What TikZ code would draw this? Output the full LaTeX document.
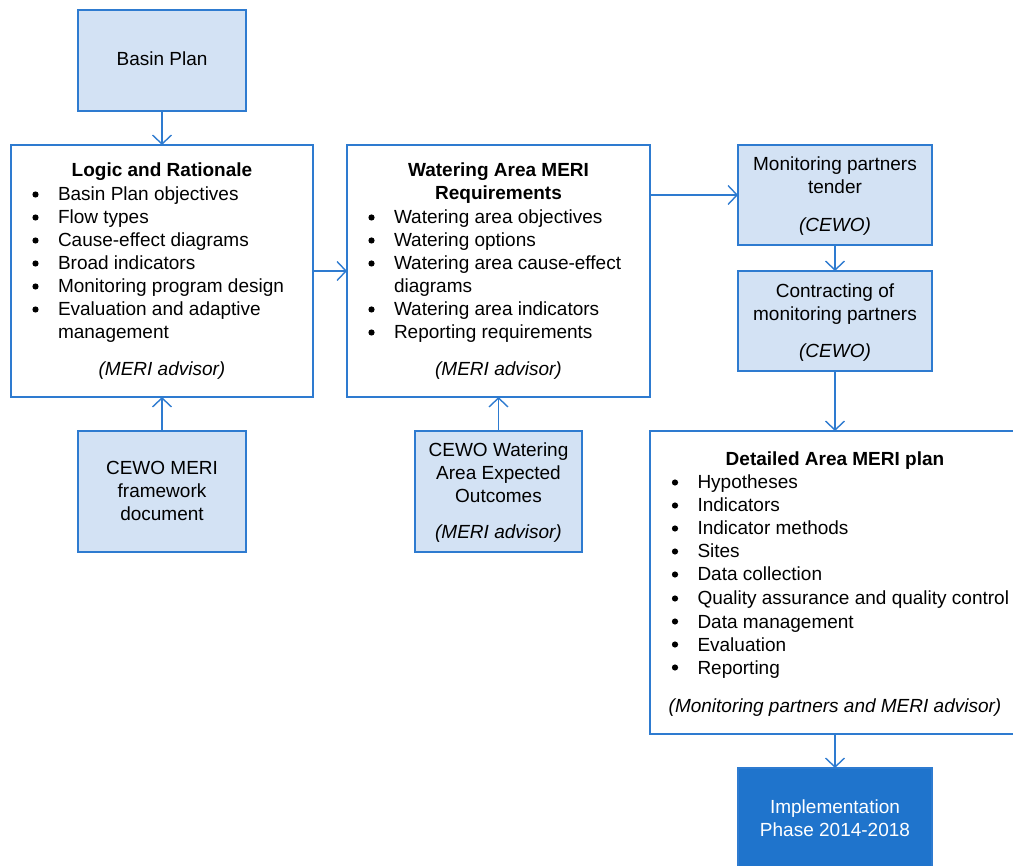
\documentclass[tikz,border=0pt]{standalone}
\usepackage{fontspec}
\setmainfont{Liberation Sans}
\usetikzlibrary{arrows.meta}
\definecolor{edgeblue}{HTML}{2E7BD0}
\definecolor{paleblue}{HTML}{D3E2F4}
\definecolor{deepblue}{HTML}{1F74CC}

% one line of text, placed by its baseline
\newcommand\tline[5][]{\node[txt,anchor=base,#1] (#2) at (#3,#4) {#5};}
% one bulleted item: round bullet at x, text starting at x+22.5
\newcommand\bitem[4]{%
  \node[dot] (#1-b) at (#2,#3-6.5) {};
  \node[txt,anchor=base west] (#1) at (#2+22.5,#3) {#4};}
% continuation line of a bulleted item
\newcommand\bcont[4]{\node[txt,anchor=base west] (#1) at (#2+22.5,#3) {#4};}

\begin{document}
\begin{tikzpicture}[x=1pt,y=-1pt,
  txt/.style={inner sep=0pt,outer sep=0pt,font=\fontsize{19}{23}\selectfont},
  dot/.style={circle,fill=black,inner sep=0pt,minimum size=6.2pt},
  box/.style={draw=edgeblue,line width=1.4pt,inner sep=0pt,outer sep=0pt,
    anchor=north west,rectangle},
  pale/.style={box,fill=paleblue},
  plain/.style={box,fill=white},
  conn/.style={draw=edgeblue,line width=1.4pt,
    -{Straight Barb[length=9pt,width=19pt,line width=1.4pt]}}]
\useasboundingbox (0,0) rectangle (1013,866);
\clip (0,0) rectangle (1013,866);

% boxes
\node[pale,minimum width=168pt,minimum height=101pt] (basin) at (78,10) {};
\node[plain,minimum width=302pt,minimum height=252pt] (logic) at (11,145) {};
\node[plain,minimum width=303pt,minimum height=252pt] (water) at (347,145) {};
\node[pale,minimum width=194pt,minimum height=100pt] (tender) at (738,145) {};
\node[pale,minimum width=194pt,minimum height=100pt] (contract) at (738,271) {};
\node[pale,minimum width=168pt,minimum height=121pt] (cewomeri) at (78,431) {};
\node[pale,minimum width=167pt,minimum height=121pt] (cewowat) at (415,431) {};
\node[plain,minimum width=372pt,minimum height=303pt] (detail) at (650,431) {};
\node[box,fill=deepblue,draw=edgeblue,minimum width=194pt,minimum height=120pt] (impl) at (738,768) {};

% connectors
\draw[conn] (basin.south) -- (logic.north);
\draw[conn] (cewomeri.north) -- (logic.south);
\draw[conn] (logic.east) -- (water.west);
\draw[conn] (cewowat.north) -- (water.south);
\draw[conn] (water.east |- tender.west) -- (tender.west);
\draw[conn] (tender.south) -- (contract.north);
\draw[conn] (contract.south) -- (contract.south |- detail.north);
\draw[conn] (contract.south |- detail.south) -- (impl.north);

% Basin Plan
\tline{basin-t}{162}{66}{Basin Plan}

% Logic and Rationale
\tline{logic-t}{162}{177}{\bfseries Logic and Rationale}
\bitem{logic-1}{35.5}{201}{Basin Plan objectives}
\bitem{logic-2}{35.5}{224}{Flow types}
\bitem{logic-3}{35.5}{247}{Cause-effect diagrams}
\bitem{logic-4}{35.5}{270}{Broad indicators}
\bitem{logic-5}{35.5}{293}{Monitoring program design}
\bitem{logic-6}{35.5}{316}{Evaluation and adaptive}
\bcont{logic-6b}{35.5}{339}{management}
\tline{logic-r}{162}{376}{\itshape (MERI advisor)}

% Watering Area MERI Requirements
\tline{water-t1}{498.5}{177}{\bfseries Watering Area MERI}
\tline{water-t2}{498.5}{200}{\bfseries Requirements}
\bitem{water-1}{371.5}{224}{Watering area objectives}
\bitem{water-2}{371.5}{247}{Watering options}
\bitem{water-3}{371.5}{270}{Watering area cause-effect}
\bcont{water-3b}{371.5}{293}{diagrams}
\bitem{water-4}{371.5}{316}{Watering area indicators}
\bitem{water-5}{371.5}{339}{Reporting requirements}
\tline{water-r}{498.5}{376}{\itshape (MERI advisor)}

% Monitoring partners tender
\tline{tender-1}{835}{171}{Monitoring partners}
\tline{tender-2}{835}{194}{tender}
\tline{tender-r}{835}{232}{\itshape (CEWO)}

% Contracting of monitoring partners
\tline{contract-1}{835}{298}{Contracting of}
\tline{contract-2}{835}{321}{monitoring partners}
\tline{contract-r}{835}{358}{\itshape (CEWO)}

% CEWO MERI framework document
\tline{cewomeri-1}{162}{475}{CEWO MERI}
\tline{cewomeri-2}{162}{498}{framework}
\tline{cewomeri-3}{162}{521}{document}

% CEWO Watering Area Expected Outcomes
\tline{cewowat-1}{498.5}{457}{CEWO Watering}
\tline{cewowat-2}{498.5}{480}{Area Expected}
\tline{cewowat-3}{498.5}{503}{Outcomes}
\tline{cewowat-r}{498.5}{539}{\itshape (MERI advisor)}

% Detailed Area MERI plan
\tline{detail-t}{835}{466}{\bfseries Detailed Area MERI plan}
\bitem{detail-1}{675}{489}{Hypotheses}
\bitem{detail-2}{675}{512}{Indicators}
\bitem{detail-3}{675}{535}{Indicator methods}
\bitem{detail-4}{675}{558}{Sites}
\bitem{detail-5}{675}{581}{Data collection}
\bitem{detail-6}{675}{605}{Quality assurance and quality control}
\bitem{detail-7}{675}{628}{Data management}
\bitem{detail-8}{675}{651}{Evaluation}
\bitem{detail-9}{675}{674}{Reporting}
\tline{detail-r}{835}{712}{\itshape (Monitoring partners and MERI advisor)}

% Implementation Phase
\tline[text=white]{impl-1}{835}{813}{Implementation}
\tline[text=white]{impl-2}{835}{836}{Phase 2014-2018}
\end{tikzpicture}
\end{document}
